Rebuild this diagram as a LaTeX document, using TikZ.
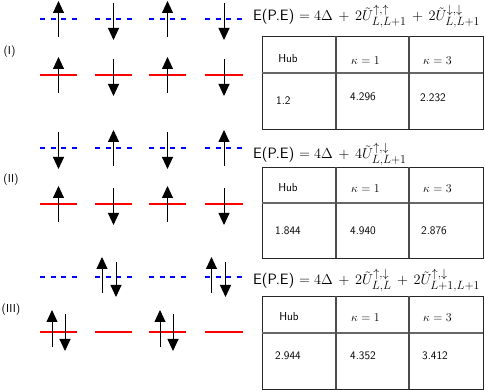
\documentclass[tikz,border=0pt]{standalone}
\usetikzlibrary{arrows.meta}
\DeclareMathSizes{15}{14}{11.5}{8.5}
\begin{document}
\begin{tikzpicture}[x=1pt,y=-1pt,
 upl/.style={draw=blue, line width=1.4pt, dash pattern=on 5pt off 5.5pt},
 lowl/.style={draw=red, line width=1.5pt},
 spin/.style={line width=0.9pt, -{Triangle[width=11pt,length=12pt]}},
 lab/.style={font=\sffamily\fontsize{11.5}{13}\selectfont, inner sep=0},
 eqn/.style={font=\sffamily\fontsize{15}{18}\selectfont, anchor=base west, inner sep=0},
 cell/.style={font=\sffamily\fontsize{11.5}{13}\selectfont, inner sep=0},
 cellw/.style={font=\sffamily\fontsize{11.5}{13}\selectfont, inner sep=0, anchor=west},
 frame/.style={draw=black!85, line width=0.9pt},
 hsep/.style={draw=black!60, line width=1.6pt},
 vsep/.style={draw=black!70, line width=1.1pt}]
\useasboundingbox (0,0) rectangle (485,390);

% ---------- level lines ----------
\foreach \L in {19,148,277}{
  \foreach \a/\b in {40/77,95/132,149/186,205/243}{
    \draw[upl] (\a,\L) -- (\b,\L);
  }
}
\foreach \L in {75,204,332}{
  \foreach \a/\b in {40/77,95/132,149/186,205/243}{
    \draw[lowl] (\a,\L) -- (\b,\L);
  }
}

% ---------- single spins ----------
\foreach \c/\L in {58.5/19,167.5/19,58.5/75,167.5/75,113.5/148,224/148,58.5/204,167.5/204}{
  \draw[spin] (\c,\L+18) -- (\c,\L-18);
}
\foreach \c/\L in {113.5/19,224/19,113.5/75,224/75,58.5/148,167.5/148,113.5/204,224/204}{
  \draw[spin] (\c,\L-16) -- (\c,\L+21);
}

% ---------- paired spins (III) ----------
\foreach \c in {113.5,223}{
  \draw[spin] (\c-11.5,293) -- (\c-11.5,257);
  \draw[spin] (\c+2.5,262) -- (\c+2.5,297);
}
\foreach \c in {58.5,166.5}{
  \draw[spin] (\c-6.5,347) -- (\c-6.5,310);
  \draw[spin] (\c+6.5,314) -- (\c+6.5,351);
}

% ---------- labels ----------
\node[lab] (l1) at (9.5,52) {(I)};
\node[lab] (l2) at (11,180) {(II)};
\node[lab] (l3) at (11,310) {(III)};

% ---------- equations ----------
\node[eqn] (e1) at (253,21) {E(P.E) $= 4\Delta\,+\,2\tilde{U}^{\uparrow,\uparrow}_{L,L+1}\,+\,2\tilde{U}^{\downarrow,\downarrow}_{L,L+1}$};
\node[eqn] (e2) at (253,159) {E(P.E) $= 4\Delta\,+\,4\tilde{U}^{\uparrow,\downarrow}_{L,L+1}$};
\node[eqn] (e3) at (253,285) {E(P.E) $= 4\Delta\,+\,2\tilde{U}^{\uparrow,\downarrow}_{L,L}\,+\,2\tilde{U}^{\uparrow,\downarrow}_{L+1,L+1}$};

% ---------- tables ----------
\foreach \t/\s/\b in {36/73/129,167/203/258,296/333/389}{
  \draw[frame] (262,\t) rectangle (483,\b);
  \draw[hsep] (262,\s) -- (483,\s);
  \draw[vsep] (336,\t) -- (336,\b);
  \draw[vsep] (409,\t) -- (409,\b);
}

% table I
\node[cell] (h1) at (288,59) {Hub};
\node[cellw] (k11) at (351,61) {$\kappa=1$};
\node[cellw] (k13) at (423,61) {$\kappa=3$};
\node[cellw] (v11) at (276,101) {1.2};
\node[cellw] (v12) at (350,97) {4.296};
\node[cellw] (v13) at (420,98) {2.232};
% table II
\node[cell] (h2) at (288,188) {Hub};
\node[cellw] (k21) at (351,189) {$\kappa=1$};
\node[cellw] (k23) at (423,189) {$\kappa=3$};
\node[cellw] (v21) at (275,231) {1.844};
\node[cellw] (v22) at (350,231) {4.940};
\node[cellw] (v23) at (421,231) {2.876};
% table III
\node[cell] (h3) at (289,317) {Hub};
\node[cellw] (k31) at (351,318) {$\kappa=1$};
\node[cellw] (k33) at (423,318) {$\kappa=3$};
\node[cellw] (v31) at (275,356) {2.944};
\node[cellw] (v32) at (350,356) {4.352};
\node[cellw] (v33) at (422,356) {3.412};
\end{tikzpicture}
\end{document}
